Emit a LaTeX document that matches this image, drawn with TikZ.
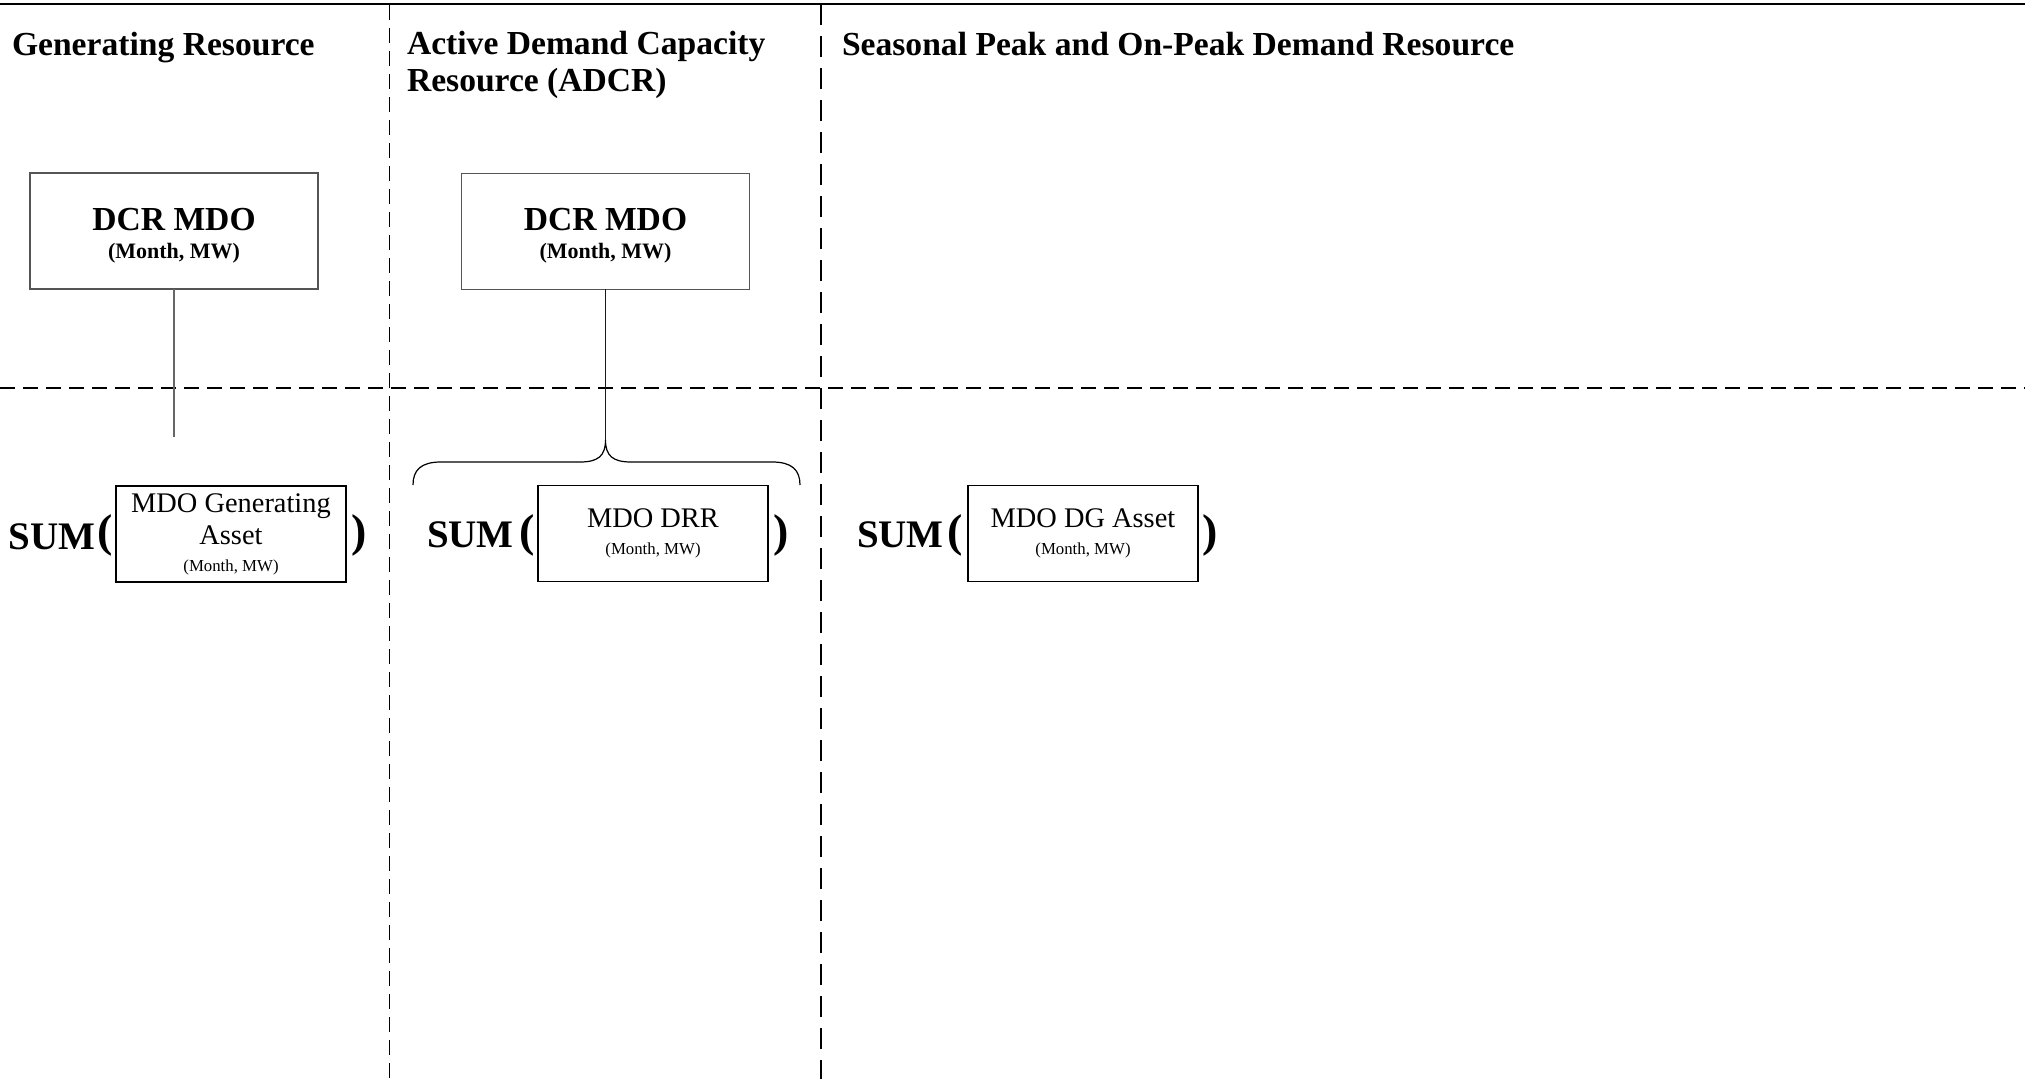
\documentclass[tikz,border=0pt]{standalone}
\usepackage{fontspec}
\setmainfont{Liberation Serif}
\definecolor{boxgray}{HTML}{555555}
\definecolor{linegray}{HTML}{666666}
\begin{document}
\begin{tikzpicture}[x=0.5pt,y=-0.5pt,
  every node/.style={inner sep=0pt, outer sep=0pt},
  heading/.style={font=\bfseries\fontsize{16.8}{18.5}\selectfont, align=left},
  dcrbox/.style={draw=boxgray, line width=0.75pt, minimum width=144pt, minimum height=58pt,
    align=center, font=\bfseries\fontsize{16.8}{14}\selectfont},
  assetbox/.style={draw=black, line width=0.75pt, minimum width=115pt, minimum height=48pt,
    align=center, font=\fontsize{14.2}{16}\selectfont},
  sumlbl/.style={font=\bfseries\fontsize{19.5}{20}\selectfont, anchor=base west},
  paren/.style={font=\bfseries\fontsize{23}{24}\selectfont},
  thindash/.style={line width=0.75pt, dash pattern=on 7.5pt off 4pt},
  thickdash/.style={line width=1.25pt, dash pattern=on 10.5pt off 5.5pt},
  hdash/.style={line width=1pt, dash pattern=on 7.5pt off 4pt},
  conn/.style={line width=0.75pt}
]
\useasboundingbox (0,0) rectangle (2025,1079);

% frame lines
\draw[line width=1.4pt] (0,4) -- (2025,4);
\draw[thindash] (389.5,5) -- (389.5,1079);
\draw[thickdash] (821,4) -- (821,1079);
\draw[hdash] (0,388) -- (2025,388);

% headings
\node[heading, anchor=base west] (h1) at (12,56) {Generating Resource};
\node[heading, anchor=north west] (h2) at (407,31) {Active Demand Capacity\\Resource (ADCR)};
\node[heading, anchor=base west] (h3) at (842,56) {Seasonal Peak and On-Peak Demand Resource};

% DCR MDO boxes
\node[dcrbox] (dcr1) at (174,231) {\rule{0pt}{15.5pt}DCR MDO\\{\fontsize{11}{14}\selectfont (Month, MW)}};
\node[dcrbox] (dcr2) at (605.5,231.5) {\rule{0pt}{15.5pt}DCR MDO\\{\fontsize{11}{14}\selectfont (Month, MW)}};

% asset boxes
\node[assetbox] (asset1) at (231,534) {MDO Generating\\Asset\\[-2.5pt]{\fontsize{8.4}{10}\selectfont (Month, MW)}};
\node[assetbox] (asset2) at (653,533.5) {MDO DRR\\[-2.5pt]{\fontsize{8.4}{10}\selectfont (Month, MW)}};
\node[assetbox] (asset3) at (1083,533.5) {MDO DG Asset\\[-2.5pt]{\fontsize{8.4}{10}\selectfont (Month, MW)}};

% SUM labels and parentheses
\node[sumlbl] (sum1) at (9,550) {SUM};
\node[paren] (lp1) at (105.5,535.5) {(};
\node[paren] (rp1) at (359,535.5) {)};
\node[sumlbl] (sum2) at (427,548) {SUM};
\node[paren] (lp2) at (527.5,535) {(};
\node[paren] (rp2) at (781.5,535) {)};
\node[sumlbl] (sum3) at (857,548) {SUM};
\node[paren] (lp3) at (955,535) {(};
\node[paren] (rp3) at (1210,535) {)};

% connectors
\coordinate (c1end) at (174,437);
\draw[conn, linegray] (dcr1.south) -- (c1end);
\coordinate (bracetip) at (605.5,440);
\coordinate (braceL) at (413,485);
\coordinate (braceR) at (800,485);
\draw[conn, black!90] (dcr2.south) -- (bracetip);
\draw[line width=0.6pt] (braceL) .. controls (413,470) and (421,462) .. (441,462)
  -- (580,462) .. controls (598,462) and (605.5,456) .. (bracetip)
  .. controls (605.5,456) and (613,462) .. (631,462)
  -- (772,462) .. controls (792,462) and (800,470) .. (braceR);
\end{tikzpicture}
\end{document}
